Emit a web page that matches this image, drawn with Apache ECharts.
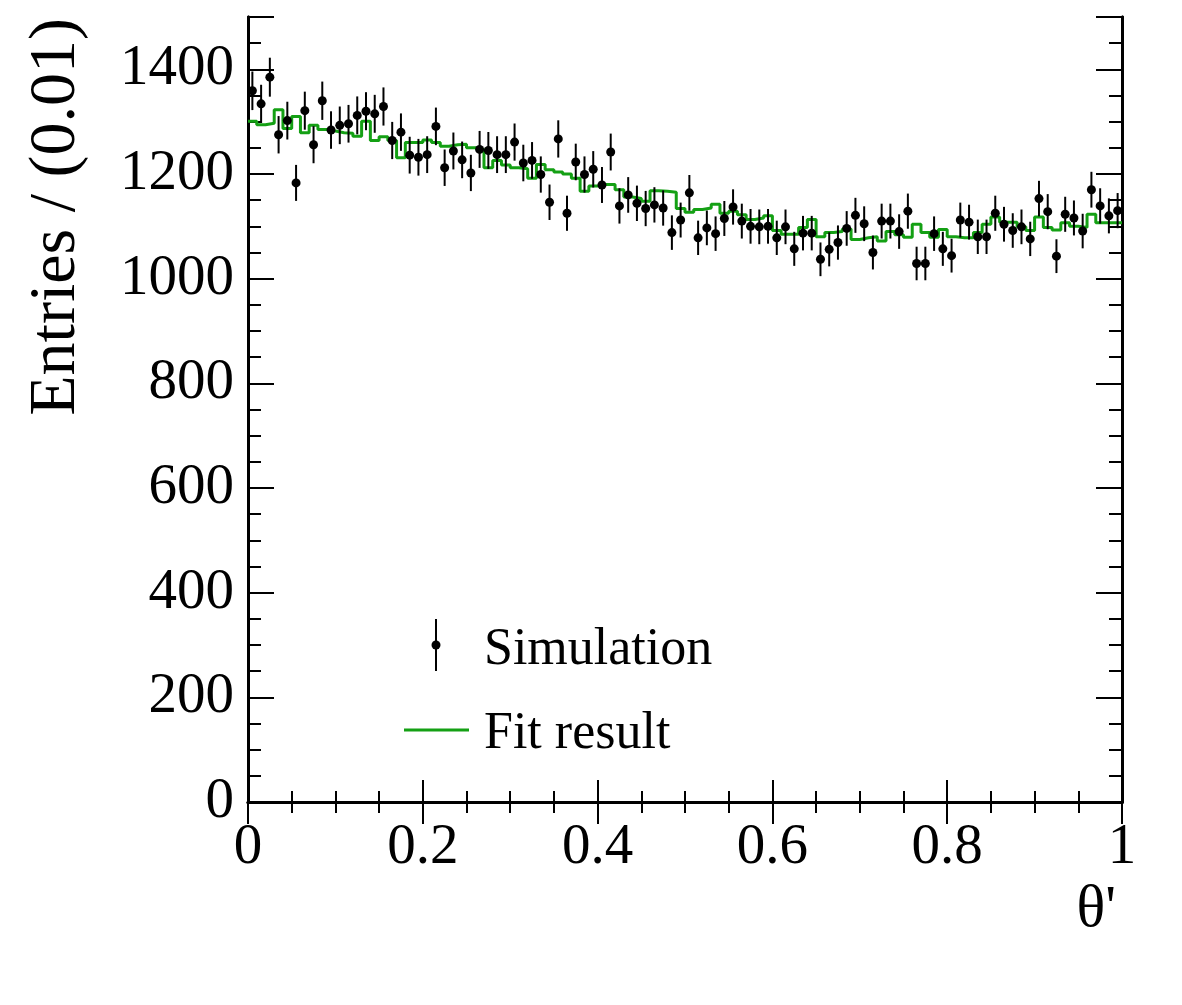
<!DOCTYPE html>
<html>
<head>
<meta charset="utf-8">
<script src="https://cdn.jsdelivr.net/npm/echarts@6/dist/echarts.min.js"></script>
<style>
  html, body { margin: 0; padding: 0; background: #fff; }
  #chart { width: 1182px; height: 1005px; }
</style>
</head>
<body>
<div id="chart"></div>
<script>
// 100 bins of width 0.01 in theta'
const binWidth = 0.01;

// simulated entries per bin (black points)
const simCounts = [
  1359, 1334, 1385, 1275, 1302, 1183, 1321, 1256, 1340, 1284,
  1293, 1296, 1312, 1320, 1315, 1329, 1264, 1280, 1236, 1232,
  1237, 1291, 1212, 1244, 1227, 1202, 1247, 1245, 1237, 1237,
  1261, 1221, 1226, 1199, 1146, 1267, 1125, 1223, 1199, 1209,
  1179, 1242, 1139, 1160, 1144, 1134, 1141, 1135, 1088, 1112,
  1164, 1078, 1097, 1086, 1115, 1137, 1110, 1100, 1099, 1100,
  1078, 1099, 1057, 1087, 1087, 1037, 1056, 1069, 1096, 1121,
  1105, 1050, 1110, 1110, 1090, 1129, 1029, 1029, 1086, 1057,
  1044, 1112, 1108, 1080, 1080, 1125, 1104, 1092, 1099, 1076,
  1153, 1128, 1043, 1123, 1116, 1091, 1170, 1139, 1120, 1130
];

// fit result histogram (green steps)
const fitCounts = [
  1301, 1294, 1297, 1323, 1287, 1310, 1279, 1293, 1285, 1282,
  1279, 1278, 1272, 1301, 1264, 1271, 1264, 1231, 1260, 1260,
  1265, 1260, 1253, 1256, 1257, 1250, 1247, 1212, 1226, 1217,
  1212, 1210, 1192, 1218, 1208, 1204, 1200, 1192, 1167, 1177,
  1180, 1180, 1170, 1156, 1153, 1148, 1168, 1167, 1165, 1134,
  1127, 1132, 1135, 1142, 1125, 1129, 1122, 1113, 1116, 1120,
  1092, 1085, 1085, 1098, 1113, 1080, 1088, 1090, 1095, 1075,
  1078, 1080, 1072, 1090, 1084, 1079, 1104, 1088, 1079, 1094,
  1080, 1078, 1078, 1088, 1104, 1118, 1108, 1108, 1099, 1092,
  1118, 1098, 1093, 1107, 1100, 1098, 1123, 1107, 1107, 1107
];

const xTicks = [0, 0.2, 0.4, 0.6, 0.8, 1];
const yLabelMax = 1400;

const FONT = '"Liberation Serif", "DejaVu Serif", serif';
const GREEN = '#14a014';

const simData = simCounts.map((v, i) => [(i + 0.5) * binWidth, v, Math.sqrt(v)]);
const fitSteps = [];
fitCounts.forEach((v, i) => {
  fitSteps.push([i * binWidth, v]);
  fitSteps.push([(i + 1) * binWidth, v]);
});

const chart = echarts.init(document.getElementById('chart'));

const frameLine = { show: true, lineStyle: { color: '#000', width: 3 } };

function yAxisDef(position, interval, tickLen, showLabel) {
  return {
    type: 'value',
    position: position,
    min: 0,
    max: 1500,
    interval: interval,
    axisLine: frameLine,
    axisTick: { show: true, inside: true, length: tickLen, lineStyle: { color: '#000', width: 2 } },
    axisLabel: {
      show: showLabel,
      margin: 14,
      color: '#000',
      fontFamily: FONT,
      fontSize: 57,
      formatter: v => (v <= yLabelMax ? String(v) : '')
    },
    splitLine: { show: false }
  };
}

function xAxisDef(position, showLabel) {
  return {
    type: 'value',
    position: position,
    min: xTicks[0],
    max: xTicks[xTicks.length - 1],
    interval: xTicks[1] - xTicks[0],
    axisLine: frameLine,
    axisTick: { show: true, inside: true, length: 22, lineStyle: { color: '#000', width: 2 } },
    minorTick: { show: true, splitNumber: 4, length: 11, lineStyle: { color: '#000', width: 2 } },
    axisLabel: {
      show: showLabel,
      margin: 18,
      color: '#000',
      fontFamily: FONT,
      fontSize: 57,
      formatter: v => String(Math.round(v * 10) / 10)
    },
    splitLine: { show: false }
  };
}

chart.setOption({
  backgroundColor: '#fff',
  animation: false,
  grid: { left: 248, right: 60, top: 17, bottom: 203, containLabel: false },
  xAxis: [xAxisDef('bottom', true), xAxisDef('top', false)],
  yAxis: [
    yAxisDef('left', 200, 26, true),
    yAxisDef('left', 50, 13, false),
    yAxisDef('right', 200, 26, false),
    yAxisDef('right', 50, 13, false)
  ],
  graphic: [
    {
      type: 'text', x: 57, y: 18, rotation: Math.PI / 2,
      style: { text: 'Entries / (0.01)', fontFamily: FONT, fontSize: 66, fill: '#000', align: 'right', verticalAlign: 'middle' }
    },
    {
      type: 'text', x: 1116, y: 910,
      style: { text: 'θ\'', fontFamily: FONT, fontSize: 60, fill: '#000', align: 'right', verticalAlign: 'middle' }
    },
    // legend
    { type: 'line', shape: { x1: 436, y1: 619, x2: 436, y2: 671 }, style: { stroke: '#000', lineWidth: 2 } },
    { type: 'circle', shape: { cx: 436, cy: 645, r: 4.5 }, style: { fill: '#000' } },
    {
      type: 'text', x: 484, y: 650,
      style: { text: 'Simulation', fontFamily: FONT, fontSize: 52, fill: '#000', verticalAlign: 'middle' }
    },
    { type: 'line', shape: { x1: 404, y1: 730, x2: 469, y2: 730 }, style: { stroke: GREEN, lineWidth: 3 } },
    {
      type: 'text', x: 484, y: 734,
      style: { text: 'Fit result', fontFamily: FONT, fontSize: 52, fill: '#000', verticalAlign: 'middle' }
    }
  ],
  series: [
    {
      name: 'Fit result',
      type: 'line',
      data: fitSteps,
      showSymbol: false,
      lineStyle: { color: GREEN, width: 3 },
      z: 2
    },
    {
      name: 'Simulation',
      type: 'custom',
      data: simData,
      z: 3,
      renderItem(params, api) {
        const x = api.value(0), y = api.value(1), e = api.value(2);
        const p = api.coord([x, y]);
        const top = api.coord([x, y + e]);
        const bot = api.coord([x, y - e]);
        return {
          type: 'group',
          children: [
            { type: 'line', shape: { x1: p[0], y1: top[1], x2: p[0], y2: bot[1] }, style: { stroke: '#000', lineWidth: 2 } },
            { type: 'circle', shape: { cx: p[0], cy: p[1], r: 4.5 }, style: { fill: '#000' } }
          ]
        };
      }
    }
  ]
});

window.addEventListener('resize', () => chart.resize());
</script>
</body>
</html>
